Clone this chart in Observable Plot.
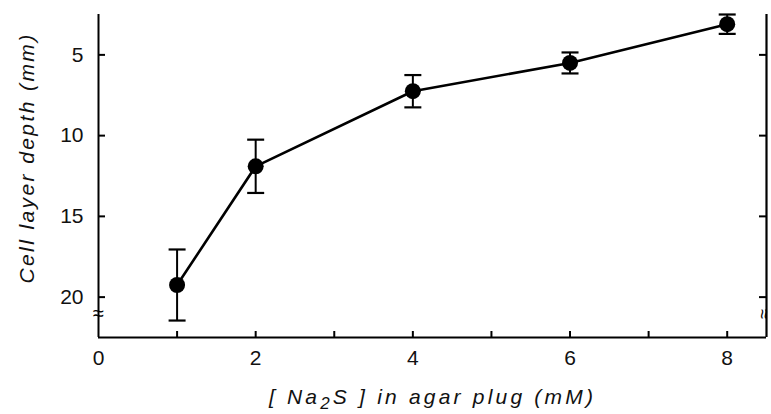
<!DOCTYPE html>
<html>
<head>
<meta charset="utf-8">
<script src="https://cdn.jsdelivr.net/npm/d3@7"></script>
<script src="https://cdn.jsdelivr.net/npm/@observablehq/plot@0.6"></script>
<style>
  html, body { margin: 0; padding: 0; background: #fff; overflow: hidden; }
  #chart svg { display: block; font-family: 'Liberation Sans', Arial, sans-serif; color: #111; }
</style>
</head>
<body>
<div id="chart"></div>
<script>
// Data
const conc = [1, 2, 4, 6, 8];                 // [Na2S] in agar plug (mM)
const depth = [19.25, 11.9, 7.25, 5.5, 3.1];  // cell layer depth (mm)
const err = [2.2, 1.65, 1.0, 0.65, 0.6];      // error bar half-length (mm)

const xTickLabels = [0, 2, 4, 6, 8];
const xTickMarks = [1, 2, 3, 4, 5, 6, 7, 8];
const yTicks = [5, 10, 15, 20];
const xDomain = [0, 8.5];
const yDomain = [2.5, 22.5];
const axisBreak = [21.05];

const xLabel = "[ Na₂S ] in agar plug (mM)";
const yLabel = "Cell layer depth (mm)";

const data = conc.map((c, i) => ({x: c, y: depth[i], e: err[i]}));

const W = 771, H = 414;
const mL = 98, mR = 5, mT = 14, mB = 77;
const frameW = W - mL - mR, frameH = H - mT - mB;

const cap = {
  draw(context, size) {
    const r = Math.sqrt(size / Math.PI);
    context.moveTo(-r, 0);
    context.lineTo(r, 0);
  }
};

const ink = "black";

const chart = Plot.plot({
  width: W,
  height: H,
  marginLeft: mL,
  marginRight: mR,
  marginTop: mT,
  marginBottom: mB,
  x: {domain: xDomain, axis: null},
  y: {domain: yDomain, reverse: true, axis: null},
  marks: [
    // tick labels
    Plot.axisY({ticks: yTicks, tickSize: 0, tickPadding: 15, fontSize: 21, label: null}),
    Plot.axisX({ticks: xTickLabels, tickSize: 0, tickPadding: 13, fontSize: 21, label: null}),
    // error bars
    Plot.ruleX(data, {x: "x", y1: d => d.y - d.e, y2: d => d.y + d.e, stroke: ink, strokeWidth: 2}),
    Plot.dot(data, {x: "x", y: d => d.y - d.e, symbol: cap, r: 8.5, stroke: ink, strokeWidth: 2.2, fill: "none"}),
    Plot.dot(data, {x: "x", y: d => d.y + d.e, symbol: cap, r: 8.5, stroke: ink, strokeWidth: 2.2, fill: "none"}),
    // line and points
    Plot.line(data, {x: "x", y: "y", stroke: ink, strokeWidth: 2.6}),
    Plot.dot(data, {x: "x", y: "y", r: 8, fill: ink, stroke: "none"}),
    // axis titles
    Plot.text([yLabel], {frameAnchor: "left", dx: -71, dy: -18, rotate: -90, text: d => d,
      fontSize: 21, fontStyle: "italic", textAnchor: "middle", lineAnchor: "middle", fill: "#111"}),
    Plot.text([xLabel], {frameAnchor: "bottom", dy: 60, text: d => d,
      fontSize: 21, fontStyle: "italic", textAnchor: "middle", lineAnchor: "middle", fill: "#111"}),
    // inward ticks
    Plot.tickY(yTicks, {y: d => d, insetRight: frameW - 7, stroke: ink, strokeWidth: 2}),
    Plot.tickY(yTicks, {y: d => d, insetLeft: frameW - 7, stroke: ink, strokeWidth: 2}),
    Plot.tickX(xTickMarks, {x: d => d, insetTop: frameH - 6, stroke: ink, strokeWidth: 2}),
    // axis breaks
    Plot.text(axisBreak, {x: () => xDomain[0], y: d => d, text: () => "≈", fontSize: 20, fill: ink}),
    Plot.text(axisBreak, {x: () => xDomain[1], y: d => d, dx: -3, text: () => "≈", fontSize: 18, rotate: 90, fill: ink}),
    // axis frame (left, right, bottom)
    Plot.ruleX([xDomain[0]], {stroke: ink, strokeWidth: 2}),
    Plot.ruleX([xDomain[1]], {stroke: ink, strokeWidth: 2.2}),
    Plot.ruleY([yDomain[1]], {stroke: ink, strokeWidth: 2})
  ]
});

// subscript for Na2S and letter spacing of axis titles
chart.querySelectorAll("text").forEach(t => {
  const s = t.textContent;
  if (s === yLabel) t.setAttribute("letter-spacing", "2.4");
  if (s.includes("₂")) {
    t.setAttribute("letter-spacing", "3.2");
    const [a, b] = s.split("₂");
    const ns = "http://www.w3.org/2000/svg";
    while (t.firstChild) t.removeChild(t.firstChild);
    const t1 = document.createElementNS(ns, "tspan"); t1.textContent = a;
    const t2 = document.createElementNS(ns, "tspan"); t2.textContent = "2";
    t2.setAttribute("dy", "5"); t2.setAttribute("font-size", "17");
    const t3 = document.createElementNS(ns, "tspan"); t3.textContent = b;
    t3.setAttribute("dy", "-5");
    t.append(t1, t2, t3);
  }
});

document.getElementById("chart").appendChild(chart);
</script>
</body>
</html>
